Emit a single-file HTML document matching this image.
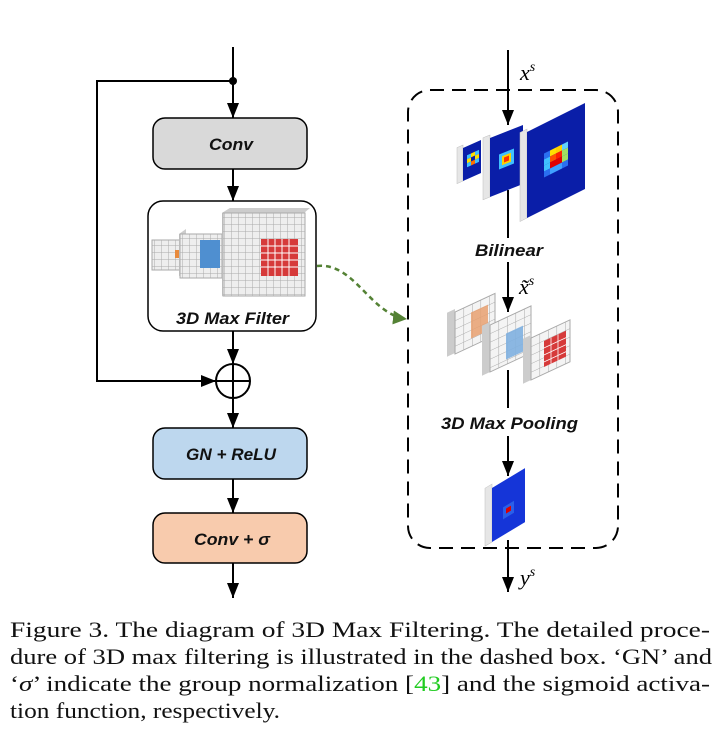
<!DOCTYPE html>
<html><head><meta charset="utf-8"><style>
html,body{margin:0;padding:0;background:#fff;}
svg{display:block;}
.lbl{font-family:"Liberation Sans",sans-serif;font-style:italic;font-weight:bold;font-size:17px;fill:#111;}
.cap{font-family:"Liberation Serif",serif;font-size:22px;fill:#111;}
</style></head><body>
<svg width="723" height="745" viewBox="0 0 723 745" xmlns="http://www.w3.org/2000/svg">
<defs>
<marker id="ar" viewBox="0 0 15 12" refX="15" refY="6" markerWidth="15" markerHeight="12" markerUnits="userSpaceOnUse" orient="auto"><path d="M0,0L15,6L0,12z" fill="#000"/></marker>
<marker id="ag" viewBox="0 0 10 10" refX="10" refY="5" markerWidth="14" markerHeight="14" markerUnits="userSpaceOnUse" orient="auto"><path d="M0,0L10,5L0,10z" fill="#548235"/></marker>
<pattern id="g" width="7" height="7" patternUnits="userSpaceOnUse"><rect width="7" height="7" fill="#eee"/><path d="M0,0H7M0,0V7" stroke="#aaa" stroke-width="1"/></pattern>
<pattern id="g2" width="8.5" height="8.5" patternUnits="userSpaceOnUse"><rect width="8.5" height="8.5" fill="#f4f4f4"/><path d="M0,0H8.5M0,0V8.5" stroke="#aaa" stroke-width="1"/></pattern>
</defs>
<g stroke="#000" stroke-width="2" fill="none">
<line x1="233" y1="47" x2="233" y2="118" marker-end="url(#ar)"/>
<polyline points="233,81 97,81 97,381 216,381" marker-end="url(#ar)"/>
<line x1="233" y1="169" x2="233" y2="201" marker-end="url(#ar)"/>
<line x1="233" y1="331" x2="233" y2="364" marker-end="url(#ar)"/>
<line x1="233" y1="398" x2="233" y2="428" marker-end="url(#ar)"/>
<line x1="233" y1="479" x2="233" y2="513" marker-end="url(#ar)"/>
<line x1="233" y1="563" x2="233" y2="598" marker-end="url(#ar)"/>
<circle cx="233" cy="381" r="17" fill="#fff"/>
<line x1="216" y1="381" x2="250" y2="381"/><line x1="233" y1="364" x2="233" y2="398"/>
</g>
<circle cx="233" cy="81" r="4" fill="#000"/>
<rect x="153" y="118" width="154" height="51" rx="12" fill="#d9d9d9" stroke="#000" stroke-width="1.5"/>
<text class="lbl" x="209" y="150" textLength="44" lengthAdjust="spacingAndGlyphs">Conv</text>
<rect x="148" y="201" width="168" height="130" rx="15" fill="#fff" stroke="#000" stroke-width="1.5"/>
<rect x="152" y="240" width="28" height="30" fill="url(#g)" stroke="#aaa"/>
<rect x="175" y="250" width="4" height="8" fill="#e88a3c"/>
<polygon points="179,234 186,229 186,272 179,276" fill="#ccc"/>
<rect x="180" y="234" width="42" height="44" fill="url(#g)" stroke="#aaa"/>
<rect x="200" y="240" width="20" height="28" fill="#4f8fd0"/>
<polygon points="222,213 230,208 230,290 222,296" fill="#ccc"/>
<polygon points="222,213 230,208 310,208 304,213" fill="#ccc"/>
<rect x="223" y="213" width="82" height="83" fill="url(#g)" stroke="#aaa"/>
<rect x="261" y="239" width="37" height="37" fill="#d63a3a"/>
<path d="M261,246H298M261,253H298M261,260H298M261,267H298M268,239V276M275,239V276M282,239V276M289,239V276" stroke="#fff" stroke-width="1"/>
<text class="lbl" x="176" y="324" textLength="113" lengthAdjust="spacingAndGlyphs">3D Max Filter</text>
<rect x="153" y="428" width="154" height="51" rx="12" fill="#bdd7ee" stroke="#000" stroke-width="1.5"/>
<text class="lbl" x="186" y="460" textLength="90" lengthAdjust="spacingAndGlyphs">GN + ReLU</text>
<rect x="153" y="513" width="154" height="50" rx="12" fill="#f8cbad" stroke="#000" stroke-width="1.5"/>
<text class="lbl" x="194" y="545" textLength="76" lengthAdjust="spacingAndGlyphs">Conv + σ</text>
<path d="M317,266 C355,262 370,315 407,319" stroke="#548235" stroke-width="2.5" fill="none" stroke-dasharray="5,4" marker-end="url(#ag)"/>
<rect x="408" y="90" width="210" height="458" rx="22" fill="none" stroke="#000" stroke-width="2" stroke-dasharray="14,8"/>
<g stroke="#000" stroke-width="2" fill="none">
<line x1="508" y1="50" x2="508" y2="125" marker-end="url(#ar)"/>
<line x1="508" y1="190" x2="508" y2="238"/>
<line x1="508" y1="262" x2="508" y2="312" marker-end="url(#ar)"/>
<line x1="508" y1="370" x2="508" y2="408"/>
<line x1="508" y1="436" x2="508" y2="476" marker-end="url(#ar)"/>
<line x1="508" y1="540" x2="508" y2="592" marker-end="url(#ar)"/>
</g>
<text x="520" y="80" font-family="Liberation Serif,serif" font-style="italic" font-size="22">x<tspan font-size="14" dy="-9">s</tspan></text>
<text x="519" y="294" font-family="Liberation Serif,serif" font-style="italic" font-size="22">x̃<tspan font-size="14" dy="-9">s</tspan></text>
<text x="520" y="585" font-family="Liberation Serif,serif" font-style="italic" font-size="22">y<tspan font-size="14" dy="-9">s</tspan></text>
<g transform="translate(463,148) skewY(-24)">
<rect x="-6" y="-3" width="6" height="36" fill="#e6e6e6" stroke="#bbb" stroke-width="0.5"/>
<rect x="0" y="0" width="18" height="33" fill="#0a1ea8"/>
<rect x="4" y="9" width="4" height="4" fill="#40c0ff"/><rect x="8" y="9" width="4" height="4" fill="#ffe000"/><rect x="12" y="9" width="4" height="4" fill="#40c0ff"/>
<rect x="4" y="13" width="4" height="4" fill="#ffe000"/><rect x="8" y="13" width="4" height="4" fill="#0a1ea8"/><rect x="12" y="13" width="4" height="4" fill="#ffe000"/>
<rect x="4" y="17" width="4" height="4" fill="#40c0ff"/><rect x="8" y="17" width="4" height="4" fill="#ff7000"/><rect x="12" y="17" width="4" height="4" fill="#40c0ff"/>
</g>
<g transform="translate(490,138) skewY(-21.5)">
<rect x="-7" y="-3" width="7" height="62" fill="#e6e6e6" stroke="#bbb" stroke-width="0.5"/>
<rect x="0" y="0" width="33" height="59" fill="#0a1ea8"/>
<rect x="9" y="20" width="15" height="15" fill="#40c0ff"/>
<rect x="12" y="23" width="9" height="9" fill="#ffd000"/>
<rect x="14" y="25" width="5" height="5" fill="#ff3000"/>
</g>
<g transform="translate(527,132) skewY(-26.6)">
<rect x="-7" y="-3" width="7" height="89" fill="#e6e6e6" stroke="#bbb" stroke-width="0.5"/>
<rect x="0" y="0" width="58" height="86" fill="#0a1ea8"/>
<rect x="17" y="30" width="6" height="6" fill="#2a6ff0"/><rect x="23" y="30" width="6" height="6" fill="#ffe000"/><rect x="29" y="30" width="6" height="6" fill="#ffd000"/><rect x="35" y="30" width="6" height="6" fill="#60d0ff"/>
<rect x="17" y="36" width="6" height="6" fill="#40c0ff"/><rect x="23" y="36" width="6" height="6" fill="#ff5000"/><rect x="29" y="36" width="6" height="6" fill="#ff2000"/><rect x="35" y="36" width="6" height="6" fill="#a0e060"/>
<rect x="17" y="42" width="6" height="6" fill="#40c0ff"/><rect x="23" y="42" width="6" height="6" fill="#e00000"/><rect x="29" y="42" width="6" height="6" fill="#e00000"/><rect x="35" y="42" width="6" height="6" fill="#a0e060"/>
<rect x="17" y="48" width="6" height="6" fill="#2a6ff0"/><rect x="23" y="48" width="6" height="6" fill="#40a0ff"/><rect x="29" y="48" width="6" height="6" fill="#40a0ff"/><rect x="35" y="48" width="6" height="6" fill="#2a6ff0"/>
</g>
<text class="lbl" x="475" y="256" textLength="68" lengthAdjust="spacingAndGlyphs">Bilinear</text>
<g transform="translate(455,312) skewY(-25)">
<rect x="-8" y="-3" width="8" height="44" fill="#ccc"/>
<rect x="0" y="0" width="40" height="42" fill="url(#g2)" stroke="#aaa"/>
<rect x="16" y="8" width="17" height="26" fill="#e8a070" opacity="0.85"/>
</g>
<g transform="translate(490,325) skewY(-25)">
<rect x="-8" y="-3" width="8" height="50" fill="#ccc"/>
<rect x="0" y="0" width="41" height="47" fill="url(#g2)" stroke="#aaa"/>
<rect x="16" y="16" width="17" height="26" fill="#7fb0e0" opacity="0.9"/>
</g>
<g transform="translate(531,338) skewY(-25)">
<rect x="-8" y="-3" width="8" height="45" fill="#ccc"/>
<rect x="0" y="0" width="39" height="42" fill="url(#g2)" stroke="#aaa"/>
<rect x="13" y="9" width="22" height="26" fill="#d63a3a"/>
<path d="M13,16H35M13,23H35M13,30H35M20,9V35M27,9V35" stroke="#fff" stroke-width="0.8"/>
</g>
<text class="lbl" x="441" y="429" textLength="137" lengthAdjust="spacingAndGlyphs">3D Max Pooling</text>
<g transform="translate(492,488) skewY(-31)">
<rect x="-7" y="-4" width="7" height="58" fill="#e6e6e6" stroke="#bbb" stroke-width="0.5"/>
<rect x="0" y="0" width="33" height="54" fill="#1535d8"/>
<rect x="11" y="26" width="11" height="12" fill="#2b5fe8"/><rect x="14" y="29" width="5" height="5" fill="#d00"/>
</g>
<text class="cap" x="10" y="637" textLength="700" lengthAdjust="spacingAndGlyphs">Figure 3. The diagram of 3D Max Filtering.  The detailed proce-</text>
<text class="cap" x="10" y="664" textLength="702" lengthAdjust="spacingAndGlyphs">dure of 3D max filtering is illustrated in the dashed box. ‘GN’ and</text>
<text class="cap" x="10" y="691" textLength="700" lengthAdjust="spacingAndGlyphs">‘<tspan font-style="italic">σ</tspan>’ indicate the group normalization [<tspan fill="#22cc22">43</tspan>] and the sigmoid activa-</text>
<text class="cap" x="10" y="718" textLength="270" lengthAdjust="spacingAndGlyphs">tion function, respectively.</text>
</svg>
</body></html>
